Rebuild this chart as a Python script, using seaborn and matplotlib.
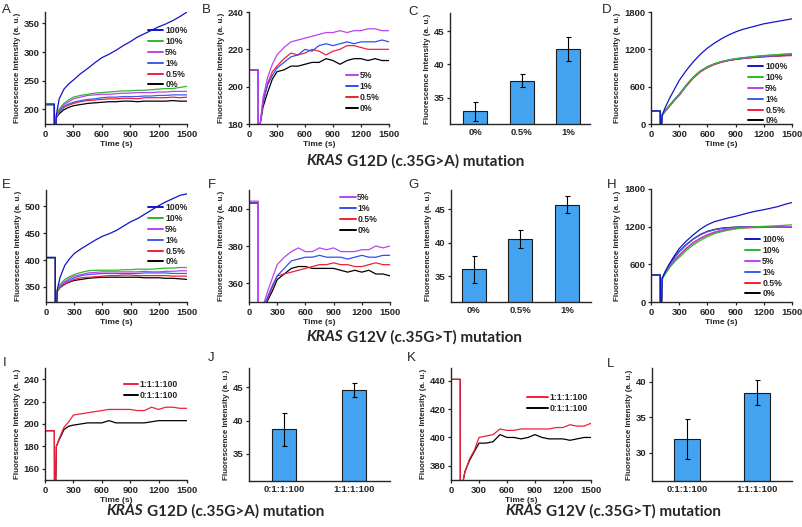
import matplotlib.pyplot as plt
import seaborn as sns

# ------------------------------------
# DATA
# ------------------------------------

TIME = [0, 50, 99, 100, 112, 120, 150, 200, 250, 300, 375, 450, 525, 600, 675,
        750, 825, 900, 975, 1050, 1125, 1200, 1275, 1350, 1425, 1500]

LABELS_6 = ["100%", "10%", "5%", "1%", "0.5%", "0%"]
LABELS_4 = ["5%", "1%", "0.5%", "0%"]
LABELS_2 = ["1:1:1:100", "0:1:1:100"]

# panel A - G12D, all ratios
A_100 = [209, 209, 209, 150, 150, 190, 218, 235, 244, 251, 262, 271, 281, 290, 296, 303, 311, 318, 326, 332, 338, 344, 349, 355, 362, 370]
A_10 = [208, 208, 208, 150, 150, 188, 200, 210, 216, 221, 224, 226, 228, 229, 230, 231, 232, 232, 233, 233, 234, 235, 236, 236, 238, 240]
A_5 = [208, 208, 208, 150, 150, 187, 198, 208, 213, 218, 221, 224, 225, 226, 226, 227, 228, 228, 229, 229, 229, 230, 230, 231, 231, 231]
A_1 = [208, 208, 208, 150, 150, 186, 196, 205, 209, 212, 215, 217, 218, 220, 221, 221, 222, 222, 222, 223, 223, 224, 224, 225, 225, 225]
A_05 = [208, 208, 208, 150, 150, 186, 195, 203, 207, 210, 213, 215, 216, 217, 218, 218, 219, 219, 218, 220, 220, 220, 220, 221, 220, 221]
A_0 = [208, 208, 208, 150, 150, 185, 192, 199, 203, 206, 208, 210, 211, 212, 213, 213, 214, 214, 213, 214, 214, 214, 214, 215, 214, 214]

# panel B - G12D, low ratios
B_5 = [209, 209, 209, 170, 170, 180, 194, 205, 212, 217, 221, 224, 225, 226, 227, 228, 229, 229, 230, 229, 230, 230, 231, 231, 230, 230]
B_1 = [209, 209, 209, 170, 170, 180, 192, 201, 206, 210, 213, 216, 217, 220, 219, 222, 223, 222, 223, 224, 223, 224, 224, 224, 225, 224]
B_05 = [209, 209, 209, 170, 170, 180, 191, 202, 208, 211, 215, 218, 217, 218, 220, 219, 217, 219, 220, 222, 222, 221, 220, 220, 220, 220]
B_0 = [209, 209, 209, 170, 170, 180, 189, 197, 204, 208, 209, 211, 211, 212, 213, 213, 215, 214, 212, 214, 215, 215, 214, 215, 214, 214]

# panel C - G12D bars
C_CATS = ["0%", "0.5%", "1%"]
C_VALS = [33.0, 37.6, 42.3]
C_ERRS = [1.45, 0.92, 1.8]

# panel D - G12D, wild type probe
D_100 = [210, 210, 210, 0, 0, 150, 260, 420, 560, 700, 860, 1000, 1120, 1220, 1300, 1370, 1430, 1480, 1520, 1550, 1580, 1610, 1630, 1650, 1670, 1690]
D_10 = [210, 210, 210, 0, 0, 140, 210, 300, 390, 470, 620, 750, 850, 920, 970, 1005, 1030, 1050, 1065, 1078, 1090, 1100, 1108, 1116, 1124, 1132]
D_5 = [210, 210, 210, 0, 0, 140, 205, 295, 385, 465, 615, 745, 845, 915, 965, 1002, 1028, 1048, 1062, 1075, 1087, 1097, 1105, 1112, 1120, 1128]
D_1 = [210, 210, 210, 0, 0, 145, 215, 305, 395, 475, 625, 752, 850, 918, 966, 1000, 1024, 1043, 1057, 1068, 1078, 1086, 1093, 1100, 1106, 1112]
D_05 = [210, 210, 210, 0, 0, 140, 200, 288, 378, 458, 605, 735, 835, 905, 955, 992, 1018, 1037, 1051, 1062, 1071, 1079, 1085, 1090, 1095, 1100]
D_0 = [210, 210, 210, 0, 0, 145, 212, 302, 392, 472, 622, 750, 848, 916, 964, 998, 1022, 1041, 1055, 1066, 1076, 1084, 1091, 1097, 1103, 1108]

# panel E - G12V, all ratios
E_100 = [405, 405, 405, 300, 300, 345, 368, 390, 402, 412, 421, 429, 437, 444, 449, 455, 463, 471, 477, 485, 493, 501, 508, 514, 520, 523]
E_10 = [404, 404, 404, 300, 300, 344, 355, 364, 369, 373, 377, 380, 381, 381, 381, 381, 382, 382, 383, 383, 383, 384, 385, 385, 386, 386]
E_5 = [404, 404, 404, 300, 300, 343, 352, 360, 366, 370, 373, 376, 377, 378, 378, 378, 378, 378, 378, 379, 378, 378, 379, 379, 380, 380]
E_1 = [404, 404, 404, 300, 300, 343, 351, 358, 363, 367, 371, 373, 374, 375, 375, 375, 375, 375, 375, 376, 376, 376, 376, 375, 375, 375]
E_05 = [404, 404, 404, 300, 300, 342, 349, 355, 360, 364, 367, 368, 369, 370, 371, 371, 372, 372, 371, 371, 371, 371, 371, 370, 370, 370]
E_0 = [404, 404, 404, 300, 300, 342, 349, 355, 359, 362, 364, 366, 367, 368, 368, 368, 368, 368, 368, 367, 367, 367, 366, 366, 365, 364]

# panel F - G12V, low ratios
F_5 = [404, 404, 404, 330, 330, 335, 348, 356, 363, 370, 374, 377, 379, 377, 377, 379, 378, 379, 377, 377, 377, 378, 378, 380, 379, 380]
F_1 = [403, 403, 403, 330, 330, 335, 347, 353, 359, 364, 368, 372, 373, 374, 374, 375, 374, 374, 374, 373, 374, 375, 374, 374, 375, 375]
F_05 = [403, 403, 403, 330, 330, 335, 346, 352, 358, 364, 365, 366, 367, 368, 369, 370, 370, 371, 370, 370, 369, 369, 370, 371, 370, 370]
F_0 = [403, 403, 403, 330, 330, 335, 346, 351, 356, 362, 365, 368, 369, 369, 368, 368, 368, 368, 367, 366, 367, 366, 367, 365, 365, 364]

# panel G - G12V bars
G_CATS = ["0%", "0.5%", "1%"]
G_VALS = [36.0, 40.5, 45.7]
G_ERRS = [2.05, 1.35, 1.25]

# panel H - G12V, wild type probe
H_100 = [430, 430, 430, 0, 0, 380, 480, 620, 740, 850, 970, 1070, 1160, 1230, 1280, 1310, 1340, 1365, 1395, 1425, 1450, 1470, 1495, 1520, 1555, 1585]
H_10 = [430, 430, 430, 0, 0, 370, 440, 550, 640, 710, 820, 910, 980, 1040, 1090, 1120, 1145, 1165, 1180, 1190, 1200, 1205, 1210, 1215, 1222, 1230]
H_5 = [430, 430, 430, 0, 0, 375, 455, 575, 670, 750, 860, 950, 1020, 1075, 1115, 1145, 1165, 1180, 1188, 1192, 1195, 1196, 1198, 1199, 1200, 1200]
H_1 = [430, 430, 430, 0, 0, 380, 470, 600, 705, 800, 910, 1000, 1070, 1120, 1150, 1170, 1182, 1190, 1193, 1195, 1196, 1196, 1197, 1197, 1198, 1198]
H_05 = [430, 430, 430, 0, 0, 375, 450, 565, 660, 740, 850, 940, 1010, 1065, 1105, 1135, 1155, 1170, 1178, 1183, 1186, 1188, 1190, 1190, 1190, 1190]
H_0 = [430, 430, 430, 0, 0, 380, 475, 605, 710, 805, 915, 1005, 1075, 1125, 1155, 1175, 1185, 1192, 1195, 1196, 1197, 1197, 1198, 1198, 1198, 1198]

# panel I - G12D, 1:1:1:100 vs 0:1:1:100
I_1 = [194, 194, 194, 140, 140, 180, 187, 197, 202, 208, 209, 210, 211, 212, 213, 213, 213, 213, 212, 212, 215, 213, 215, 215, 214, 214]
I_0 = [194, 194, 194, 140, 140, 180, 186, 195, 198, 199, 200, 201, 201, 201, 203, 201, 201, 201, 201, 201, 202, 203, 203, 203, 203, 203]

# panel J - G12D bars
J_CATS = ["0:1:1:100", "1:1:1:100"]
J_VALS = [38.7, 44.6]
J_ERRS = [2.5, 1.05]

# panel K - G12V, 1:1:1:100 vs 0:1:1:100
K_1 = [441, 441, 441, 360, 360, 366, 376, 385, 391, 400, 401, 402, 406, 405, 405, 406, 406, 406, 406, 406, 407, 407, 409, 408, 408, 410]
K_0 = [441, 441, 441, 360, 360, 366, 376, 384, 390, 396, 396, 397, 402, 400, 400, 399, 400, 402, 400, 399, 399, 399, 398, 399, 400, 400]

# panel L - G12V bars
L_CATS = ["0:1:1:100", "1:1:1:100"]
L_VALS = [32.0, 38.45]
L_ERRS = [2.8, 1.7]

# ------------------------------------
# STYLE
# ------------------------------------

COLORS_6 = ["#1414c8", "#2db82d", "#c040f0", "#3a5cf0", "#f0203c", "#000000"]
COLORS_4 = ["#b845f2", "#2f4ff0", "#f0203c", "#000000"]
COLORS_2 = ["#f0203c", "#000000"]
BAR_COLOR = "#43a3f0"

sns.set_style("ticks")
plt.rcParams["font.family"] = ["Liberation Sans", "DejaVu Sans"]
plt.rcParams["font.weight"] = "bold"
plt.rcParams["axes.linewidth"] = 1.0
plt.rcParams["xtick.major.size"] = 2.5
plt.rcParams["ytick.major.size"] = 2.5
plt.rcParams["xtick.major.width"] = 0.9
plt.rcParams["ytick.major.width"] = 0.9
plt.rcParams["xtick.major.pad"] = 1.5
plt.rcParams["ytick.major.pad"] = 1.5

W, H = 803, 527
fig = plt.figure(figsize=(W / 100, H / 100), dpi=100)

TICK_FS = 6.8
LABEL_FS = 6.0
LEG_FS = 6.2
YLABEL = "Fluorescence Intensity (a. u.)"


def px_axes(left, top, right, bottom):
    return fig.add_axes([left / W, 1 - bottom / H, (right - left) / W, (bottom - top) / H])


def style_axes(ax, ylim, yticks):
    sns.despine(ax=ax)
    ax.set_ylim(*ylim)
    ax.set_yticks(yticks)
    ax.tick_params(labelsize=TICK_FS)
    ax.set_ylabel(YLABEL, fontsize=5.8, fontweight="bold", labelpad=2)
    for lab in ax.get_xticklabels() + ax.get_yticklabels():
        lab.set_fontweight("bold")


def kinetic(box, series, labels, colors, ylim, yticks, leg_xy, handlelen):
    ax = px_axes(*box)
    # draw the last legend entry first so the top entry sits on top
    for vals, lab, col in reversed(list(zip(series, labels, colors))):
        sns.lineplot(x=TIME, y=vals, color=col, lw=0.9, ax=ax, label=lab,
                     errorbar=None, sort=False)
    ax.set_xlim(0, 1500)
    ax.set_xticks(range(0, 1501, 300))
    ax.set_xlabel("Time (s)", fontsize=LABEL_FS, fontweight="bold", labelpad=1.5)
    style_axes(ax, ylim, yticks)
    handles, names = ax.get_legend_handles_labels()
    leg = ax.legend(handles[::-1], names[::-1], loc="upper left",
                    bbox_to_anchor=(leg_xy[0] / W, 1 - leg_xy[1] / H),
                    bbox_transform=fig.transFigure, frameon=False,
                    prop={"size": LEG_FS, "weight": "bold"},
                    handlelength=handlelen, handletextpad=0.2,
                    labelspacing=0.22, borderpad=0, borderaxespad=0)
    for line in leg.get_lines():
        line.set_linewidth(1.4)
    return ax


def bars(box, cats, vals, errs, ylim, yticks, width, xlim):
    ax = px_axes(*box)
    sns.barplot(x=cats, y=vals, color=BAR_COLOR, width=width, edgecolor="#1a1a1a",
                linewidth=0.8, saturation=1, ax=ax)
    ax.errorbar(x=range(len(cats)), y=vals, yerr=errs, fmt="none", ecolor="black",
                elinewidth=0.8, capsize=1.8, capthick=0.8)
    ax.set_xlim(*xlim)
    ax.tick_params(axis="x", length=0, pad=3)
    style_axes(ax, ylim, yticks)
    return ax


# ------------------------------------
# PANELS
# ------------------------------------

kinetic((45, 12, 187, 124), [A_100, A_10, A_5, A_1, A_05, A_0], LABELS_6, COLORS_6,
        (174, 370), [200, 250, 300, 350], (148, 26), 1.8)
kinetic((249, 12, 389, 124), [B_5, B_1, B_05, B_0], LABELS_4, COLORS_4,
        (180, 240), [180, 200, 220, 240], (346, 71), 1.4)
bars((450, 13, 590, 124), C_CATS, C_VALS, C_ERRS, (31.1, 47.7), [35, 40, 45], 0.52, (-0.55, 2.48))
kinetic((651, 12, 792, 124), [D_100, D_10, D_5, D_1, D_05, D_0], LABELS_6, COLORS_6,
        (0, 1800), [0, 600, 1200, 1800], (748, 62), 1.8)

kinetic((46, 190, 187, 302), [E_100, E_10, E_5, E_1, E_05, E_0], LABELS_6, COLORS_6,
        (322, 530), [350, 400, 450, 500], (148, 203), 1.8)
kinetic((249, 190, 390, 302), [F_5, F_1, F_05, F_0], LABELS_4, COLORS_4,
        (350, 410), [360, 380, 400], (340, 193), 1.8)
bars((451, 190, 591, 302), G_CATS, G_VALS, G_ERRS, (31.1, 47.9), [35, 40, 45], 0.52, (-0.49, 2.52))
kinetic((651, 189, 792, 302), [H_100, H_10, H_5, H_1, H_05, H_0], LABELS_6, COLORS_6,
        (0, 1800), [0, 600, 1200, 1800], (745, 235), 1.8)

kinetic((45, 368, 187, 480), [I_1, I_0], LABELS_2, COLORS_2,
        (150, 250), [160, 180, 200, 220, 240], (124, 380), 1.6)
bars((249, 368, 390, 481), J_CATS, J_VALS, J_ERRS, (30.9, 47.9), [35, 40, 45], 0.34, (-0.5, 1.51))
kinetic((451, 368, 591, 480), [K_1, K_0], LABELS_2, COLORS_2,
        (370, 449), [380, 400, 420, 440], (527, 393), 2.4)
bars((652, 368, 792, 481), L_CATS, L_VALS, L_ERRS, (26.05, 41.9), [30, 35, 40], 0.36, (-0.5, 1.5))

# ------------------------------------
# PANEL LETTERS AND CAPTIONS
# ------------------------------------

LETTERS = ["A", "B", "C", "D", "E", "F", "G", "H", "I", "J", "K", "L"]
LETTER_XY = [(2, 4), (202, 4), (408, 6), (602, 4), (2, 179), (208, 179), (408, 179),
             (607, 179), (3, 357), (208, 352), (407, 352), (607, 358)]
for letter, (lx, ly) in zip(LETTERS, LETTER_XY):
    fig.text(lx / W, 1 - ly / H, letter, fontsize=9.5, fontweight="normal",
             ha="left", va="top")


def caption(split_x, y, rest):
    fig.text(split_x / W, 1 - y / H, "KRAS", family="Lato", fontsize=11,
             fontstyle="italic", fontweight="bold", ha="right", va="center")
    fig.text((split_x + 4) / W, 1 - y / H, rest, family="Lato", fontsize=11,
             fontweight="bold", ha="left", va="center")


caption(343, 161, "G12D (c.35G>A) mutation")
caption(343, 337, "G12V (c.35G>T) mutation")
caption(143, 511, "G12D (c.35G>A) mutation")
caption(542, 511, "G12V (c.35G>T) mutation")

plt.savefig("out.png", dpi=100)
plt.close()
